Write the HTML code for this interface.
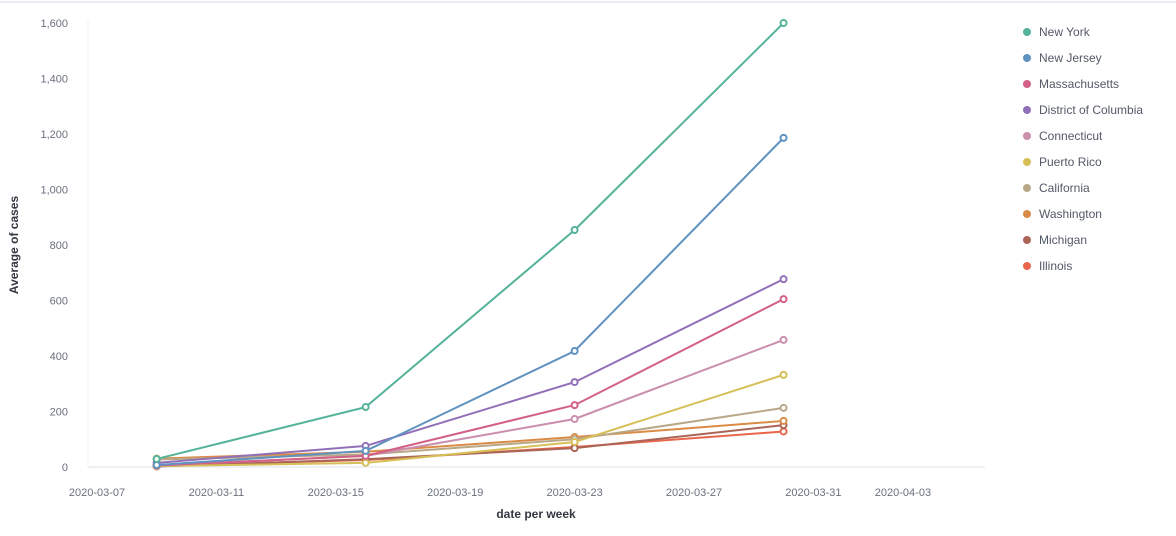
<!DOCTYPE html>
<html><head><meta charset="utf-8"><style>
body{margin:0;background:#fff;font-family:"Liberation Sans",sans-serif;}
svg text{font-family:"Liberation Sans",sans-serif;}
</style></head><body>
<svg width="1176" height="531">
<line x1="0" y1="2" x2="1176" y2="2" stroke="#d3dae6"/>
<g id="axes"></g><g id="series"></g><g id="legend"></g>
<text x="18" y="245" transform="rotate(-90 18 245)" text-anchor="middle" font-size="12" font-weight="bold" fill="#343741">Average of cases</text>
<text x="536" y="518" text-anchor="middle" font-size="12" font-weight="bold" fill="#343741">date per week</text>
</svg>
<script>
const names=["New York","New Jersey","Massachusetts","District of Columbia","Connecticut","Puerto Rico","California","Washington","Michigan","Illinois"];
const colors=["#54b399","#6092c0","#d36086","#9170b8","#ca8eae","#d6bf57","#b9a888","#da8b45","#aa6556","#e7664c"];
const dayOffsets=[2,9,16,23];
const nyV=[29,216,854,1600];
const njV=[7,58,418,1186];
const maV=[6,40,223,605];
const dcV=[15,76,306,677];
const ctV=[5,40,173,458];
const prV=[3,15,90,332];
const caV=[27,45,100,213];
const waV=[30,55,108,166];
const miV=[2,28,68,151];
const ilV=[4,25,72,128];
const series=[nyV,njV,maV,dcV,ctV,prV,caV,waV,miV,ilV];
const yTicks=[0,200,400,600,800,1000,1200,1400,1600];
const xTickDays=[0,4,8,12,16,20,24,27];
const xTickLabels=["2020-03-07","2020-03-11","2020-03-15","2020-03-19","2020-03-23","2020-03-27","2020-03-31","2020-04-03"];
const NS="http://www.w3.org/2000/svg";
const x=d=>97+29.85*d, y=v=>467-v*0.2775;
function mk(tag,attrs,parent,text){const e=document.createElementNS(NS,tag);for(const k in attrs)e.setAttribute(k,attrs[k]);if(text!==undefined)e.textContent=text;parent.appendChild(e);return e;}
const ax=document.getElementById('axes');
let l=mk('line',{x1:88,y1:467,x2:985,y2:467,stroke:'#eef0f3','stroke-width':2},ax);


l=mk('line',{x1:88,y1:20,x2:88,y2:467,stroke:'#eef0f3','stroke-width':1},ax);


yTicks.forEach(v=>{const t=mk('text',{x:68,y:y(v)+4,'text-anchor':'end','font-size':11,fill:'#69707d'},ax,v.toLocaleString('en-US'));

});
xTickDays.forEach((d,i)=>{const t=mk('text',{x:x(d),y:496,'text-anchor':'middle','font-size':11,fill:'#69707d'},ax,xTickLabels[i]);

});
const sg=document.getElementById('series');
for(let s=series.length-1;s>=0;s--){const vals=series[s];
const g=mk('g',{},sg);


const p=mk('polyline',{points:vals.map((v,i)=>x(dayOffsets[i])+','+y(v)).join(' '),fill:'none',stroke:colors[s],'stroke-width':2},g);


vals.forEach((v,i)=>{const c=mk('circle',{cx:x(dayOffsets[i]),cy:y(v),r:3,fill:'#fff',stroke:colors[s],'stroke-width':2},g);

});}
const lg=document.getElementById('legend');
names.forEach((n,i)=>{const g=mk('g',{},lg);


const yy=32+i*26;
mk('circle',{cx:1027,cy:yy,r:4,fill:colors[i]},g);
mk('text',{x:1039,y:yy+4,'font-size':12,fill:'#535966'},g,n);});
</script>
</body></html>
